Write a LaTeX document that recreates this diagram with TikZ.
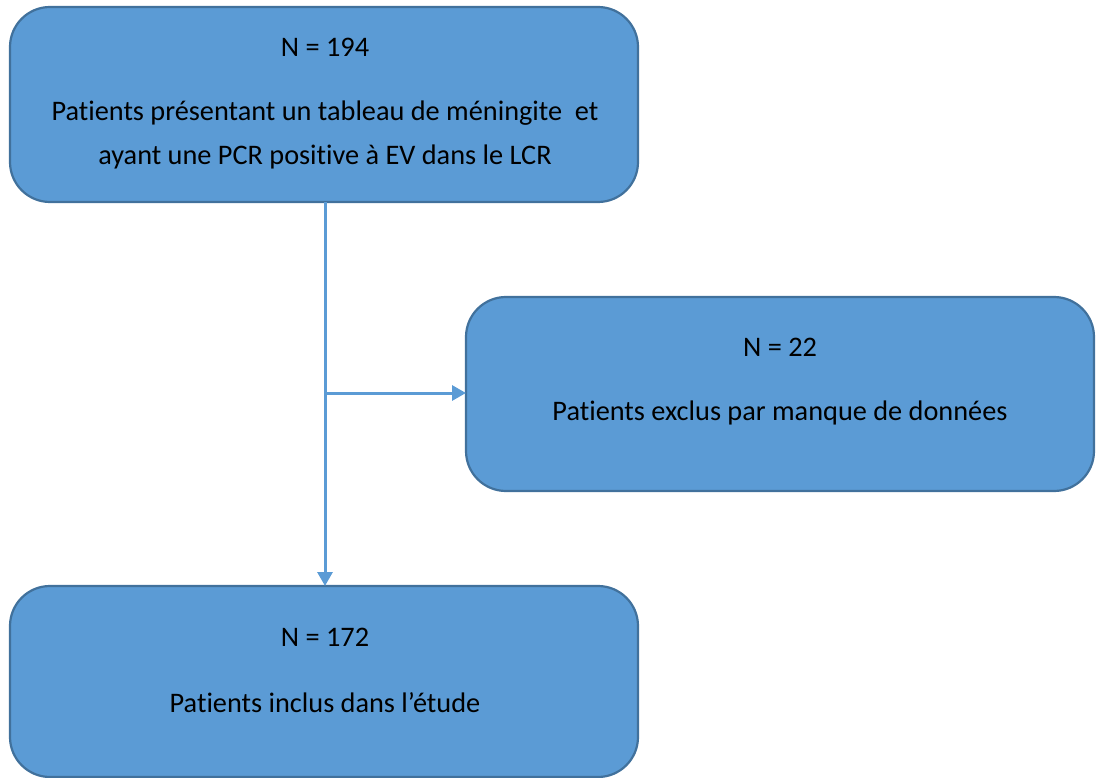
\documentclass[tikz,border=0pt]{standalone}
\usepackage{fontspec}
\setmainfont[Ligatures={NoCommon}]{Carlito}
\usetikzlibrary{arrows.meta}
\definecolor{boxfill}{HTML}{5B9BD5}
\definecolor{boxline}{HTML}{41719C}
\begin{document}
\begin{tikzpicture}[x=1pt,y=-1pt,
  box/.style={draw=boxline,fill=boxfill,line width=2.2pt,rounded corners=40pt},
  lbl/.style={font=\fontsize{28.3}{32}\selectfont,text=black,inner sep=0pt,anchor=center},
  conn/.style={draw=boxfill,line width=3pt,-{Triangle[length=14pt,width=15pt]}}]
\useasboundingbox (0,0) rectangle (1096,778);
% boxes
\draw[box] (10,7) rectangle (638,202);
\node[coordinate] (b1) at (325,202) {};
\draw[box] (466,297) rectangle (1094,491);
\node[coordinate] (b2) at (466,393) {};
\draw[box] (10,586) rectangle (638,777);
\node[coordinate] (b3) at (325,586) {};
% texts
\node[lbl] (t1a) at (325,47) {N = 194};
\node[lbl] (t1b) at (325,113) {Patients présentant un tableau de méningite\ \ et};
\node[lbl] (t1c) at (325,157) {ayant une PCR positive à EV dans le LCR};
\node[lbl] (t2a) at (780,347) {N = 22};
\node[lbl] (t2b) at (780,413) {Patients exclus par manque de données};
\node[lbl] (t3a) at (325,637) {N = 172};
\node[lbl] (t3b) at (325,703) {Patients inclus dans l’étude};
% connectors
\coordinate (j) at (325,393);
\draw[conn] (b1) -- (b3);
\draw[conn] (j) -- (b2);
\end{tikzpicture}
\end{document}
